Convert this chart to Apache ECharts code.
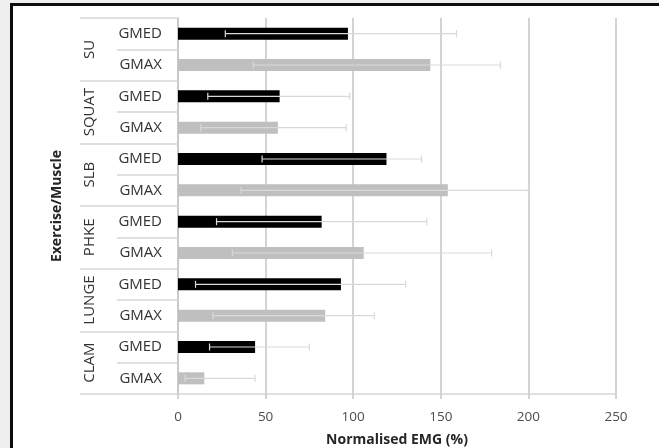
<!DOCTYPE html>
<html>
<head>
<meta charset="utf-8">
<script src="https://cdn.jsdelivr.net/npm/echarts@6/dist/echarts.min.js"></script>
<style>
  html, body { margin: 0; padding: 0; width: 659px; height: 448px; overflow: hidden; background: #efefef; }
  #frame { position: absolute; left: 10px; top: 3px; width: 700px; height: 500px; border: 3px solid #0d0d0d; background: #fff; }
  #chart { position: absolute; left: 0; top: 0; width: 659px; height: 448px; }
</style>
</head>
<body>
<div id="frame"></div>
<div id="chart"></div>
<script>
// Exercises (outer level) and muscles (inner level), top to bottom
const exercises = ['SU', 'SQUAT', 'SLB', 'PHKE', 'LUNGE', 'CLAM'];
const muscles = ['GMED', 'GMAX'];

// Mean normalised EMG (%) and error bar bounds per exercise
const gmedMean = [97, 58, 119, 82, 93, 44];
const gmedLow  = [27, 17, 48, 22, 10, 18];
const gmedHigh = [159, 98, 139, 142, 130, 75];
const gmaxMean = [144, 57, 154, 106, 84, 15];
const gmaxLow  = [43, 13, 36, 31, 20, 4];
const gmaxHigh = [184, 96, 200, 179, 112, 44];

const xTicks = [0, 50, 100, 150, 200, 250];

const muscleColor = { GMED: '#000000', GMAX: '#bfbfbf' };

// Flatten into one row per exercise/muscle pair
const rowKeys = [];
const barData = [];
const errData = [];
exercises.forEach((ex, i) => {
  const rows = [
    ['GMED', gmedMean[i], gmedLow[i], gmedHigh[i]],
    ['GMAX', gmaxMean[i], gmaxLow[i], gmaxHigh[i]]
  ];
  rows.forEach(([m, mean, lo, hi]) => {
    const idx = rowKeys.length;
    rowKeys.push(ex + '|' + m);
    barData.push({ value: mean, itemStyle: { color: muscleColor[m] } });
    errData.push([lo, hi, idx]);
  });
});

const gridColor = '#c6c6c6';
const tableColor = '#d6d6d6';
const textFont = '"Open Sans", "Liberation Sans", sans-serif';

const chart = echarts.init(document.getElementById('chart'), null, { renderer: 'canvas' });

chart.setOption({
  backgroundColor: 'transparent',
  animation: false,
  grid: { left: 178, right: 43, top: 18, bottom: 54, containLabel: false, outerBoundsMode: 'none' },
  xAxis: {
    type: 'value',
    min: xTicks[0],
    max: xTicks[xTicks.length - 1],
    interval: xTicks[1] - xTicks[0],
    name: 'Normalised EMG (%)',
    nameLocation: 'middle',
    nameGap: 39,
    nameTextStyle: { fontFamily: textFont, fontSize: 14, fontWeight: 'bold', color: '#262626' },
    axisLine: { show: true, lineStyle: { color: tableColor, width: 1.5 } },
    axisTick: { show: true, length: 5, lineStyle: { color: gridColor, width: 1.5 } },
    axisLabel: { margin: 16, fontFamily: textFont, fontSize: 13.5, color: '#4d4d4d' },
    splitLine: { show: true, lineStyle: { color: gridColor, width: 1.5 } }
  },
  yAxis: [
    {
      type: 'category',
      inverse: true,
      data: rowKeys,
      position: 'left',
      name: 'Exercise/Muscle',
      nameLocation: 'middle',
      nameRotate: 90,
      nameGap: 114,
      nameTextStyle: { fontFamily: textFont, fontSize: 14, fontWeight: 'bold', color: '#262626' },
      axisLine: { show: true, lineStyle: { color: gridColor, width: 1.5 } },
      axisTick: { show: true, length: 61, interval: 0, lineStyle: { color: tableColor, width: 1.5 } },
      axisLabel: {
        interval: 0,
        margin: 16,
        fontFamily: textFont,
        fontSize: 15,
        color: '#333333',
        formatter: v => v.split('|')[1]
      },
      splitLine: { show: false }
    },
    {
      type: 'category',
      inverse: true,
      data: exercises,
      position: 'left',
      axisLine: { show: false },
      axisTick: { show: true, length: 98, interval: 0, lineStyle: { color: tableColor, width: 1.5 } },
      axisLabel: {
        interval: 0,
        rotate: 90,
        margin: 81,
        fontFamily: textFont,
        fontSize: 15,
        color: '#333333'
      },
      splitLine: { show: false }
    }
  ],
  series: [
    {
      type: 'bar',
      yAxisIndex: 0,
      barWidth: 12,
      data: barData,
      z: 2
    },
    {
      type: 'custom',
      yAxisIndex: 0,
      encode: { x: [0, 1], y: 2 },
      data: errData,
      z: 3,
      renderItem: function (params, api) {
        const row = api.value(2);
        const p1 = api.coord([api.value(0), row]);
        const p2 = api.coord([api.value(1), row]);
        const cap = 3.5;
        const style = { stroke: '#d9d9d9', lineWidth: 1.2 };
        return {
          type: 'group',
          children: [
            { type: 'line', shape: { x1: p1[0], y1: p1[1], x2: p2[0], y2: p2[1] }, style: style },
            { type: 'line', shape: { x1: p1[0], y1: p1[1] - cap, x2: p1[0], y2: p1[1] + cap }, style: style },
            { type: 'line', shape: { x1: p2[0], y1: p2[1] - cap, x2: p2[0], y2: p2[1] + cap }, style: style }
          ]
        };
      }
    }
  ]
});
</script>
</body>
</html>
